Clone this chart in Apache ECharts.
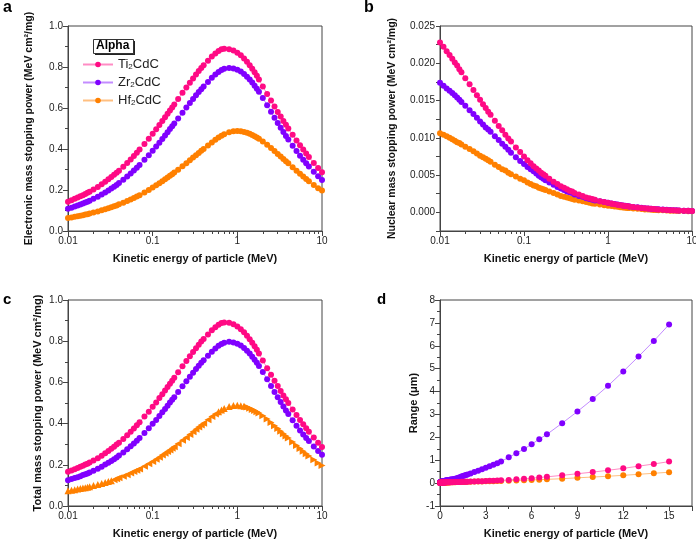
<!DOCTYPE html>
<html>
<head>
<meta charset="utf-8">
<script src="https://cdn.jsdelivr.net/npm/echarts@6/dist/echarts.min.js"></script>
<style>
  html, body { margin: 0; padding: 0; background: #fff; }
  #chart { width: 696px; height: 542px; }
</style>
</head>
<body>
<div id="chart"></div>
<script>
// SRIM energy table (MeV)
var energy = [0.010, 0.011, 0.012, 0.013, 0.014, 0.015, 0.016, 0.017, 0.018, 0.020,
  0.0225, 0.025, 0.0275, 0.030, 0.0325, 0.035, 0.0375, 0.040, 0.045, 0.050,
  0.055, 0.060, 0.065, 0.070, 0.080, 0.090, 0.100, 0.110, 0.120, 0.130,
  0.140, 0.150, 0.160, 0.170, 0.180, 0.200, 0.225, 0.250, 0.275, 0.300,
  0.325, 0.350, 0.375, 0.400, 0.450, 0.500, 0.550, 0.600, 0.650, 0.700,
  0.800, 0.900, 1.00, 1.10, 1.20, 1.30, 1.40, 1.50, 1.60, 1.70,
  1.80, 2.00, 2.25, 2.50, 2.75, 3.00, 3.25, 3.50, 3.75, 4.00,
  4.50, 5.00, 5.50, 6.00, 6.50, 7.00, 8.00, 9.00, 10.0];
var energyRange = energy.concat([11, 12, 13, 14, 15]);

// a: electronic stopping (MeV cm2/mg)
var elecTi = [0.143, 0.150, 0.157, 0.163, 0.169, 0.175, 0.181, 0.186, 0.192, 0.203,
  0.215, 0.228, 0.240, 0.252, 0.263, 0.274, 0.284, 0.294, 0.313, 0.332,
  0.349, 0.366, 0.382, 0.397, 0.425, 0.450, 0.474, 0.496, 0.517, 0.536,
  0.555, 0.572, 0.588, 0.603, 0.617, 0.644, 0.674, 0.700, 0.723, 0.744,
  0.763, 0.780, 0.795, 0.808, 0.831, 0.851, 0.866, 0.878, 0.886, 0.889,
  0.887, 0.881, 0.870, 0.857, 0.842, 0.826, 0.809, 0.792, 0.775, 0.757,
  0.739, 0.705, 0.668, 0.636, 0.607, 0.581, 0.558, 0.537, 0.518, 0.500,
  0.469, 0.442, 0.418, 0.397, 0.378, 0.361, 0.332, 0.307, 0.286];
var elecZr = [0.108, 0.114, 0.119, 0.124, 0.129, 0.134, 0.139, 0.143, 0.148, 0.157,
  0.167, 0.178, 0.188, 0.198, 0.207, 0.216, 0.225, 0.234, 0.250, 0.266,
  0.281, 0.295, 0.309, 0.322, 0.347, 0.370, 0.392, 0.412, 0.431, 0.449,
  0.466, 0.482, 0.497, 0.511, 0.524, 0.549, 0.577, 0.602, 0.624, 0.644,
  0.662, 0.678, 0.692, 0.705, 0.727, 0.747, 0.763, 0.776, 0.785, 0.791,
  0.795, 0.793, 0.787, 0.778, 0.766, 0.753, 0.739, 0.724, 0.709, 0.694,
  0.679, 0.649, 0.614, 0.582, 0.553, 0.527, 0.504, 0.483, 0.464, 0.446,
  0.416, 0.390, 0.367, 0.347, 0.330, 0.315, 0.289, 0.267, 0.249];
var elecHf = [0.063, 0.066, 0.069, 0.072, 0.075, 0.077, 0.080, 0.082, 0.085, 0.090,
  0.095, 0.101, 0.106, 0.111, 0.116, 0.121, 0.125, 0.130, 0.138, 0.146,
  0.154, 0.161, 0.168, 0.175, 0.188, 0.200, 0.212, 0.223, 0.233, 0.243,
  0.252, 0.261, 0.269, 0.277, 0.285, 0.299, 0.316, 0.331, 0.345, 0.358,
  0.370, 0.381, 0.391, 0.400, 0.417, 0.432, 0.445, 0.456, 0.465, 0.472,
  0.482, 0.487, 0.488, 0.486, 0.483, 0.479, 0.474, 0.468, 0.462, 0.456,
  0.450, 0.437, 0.421, 0.405, 0.390, 0.376, 0.363, 0.351, 0.340, 0.330,
  0.311, 0.294, 0.279, 0.266, 0.254, 0.243, 0.225, 0.209, 0.197];

// b: nuclear stopping (MeV cm2/mg)
var nuclTi = [0.0228, 0.0222, 0.0216, 0.0211, 0.0206, 0.0201, 0.0197, 0.0192, 0.0188, 0.0180,
  0.0172, 0.0164, 0.0157, 0.0151, 0.0145, 0.0140, 0.0135, 0.0131, 0.0123, 0.0116,
  0.0110, 0.0104, 0.0099, 0.0095, 0.0087, 0.0081, 0.0075, 0.0070, 0.0066, 0.0062,
  0.0059, 0.0056, 0.0053, 0.0051, 0.0049, 0.0045, 0.0041, 0.0038, 0.0035, 0.0033,
  0.0031, 0.0029, 0.0028, 0.0026, 0.0024, 0.0022, 0.0020, 0.0019, 0.0018, 0.0017,
  0.0015, 0.0014, 0.00128, 0.00118, 0.00110, 0.00103, 0.00097, 0.00091, 0.00087, 0.00082,
  0.00079, 0.00072, 0.00065, 0.00059, 0.00055, 0.00051, 0.00047, 0.00044, 0.00042, 0.00040,
  0.00036, 0.00033, 0.00030, 0.00028, 0.00026, 0.00024, 0.00022, 0.00020, 0.00018];
var nuclZr = [0.0174, 0.0170, 0.0166, 0.0163, 0.0160, 0.0157, 0.0154, 0.0151, 0.0148, 0.0143,
  0.0137, 0.0132, 0.0127, 0.0122, 0.0118, 0.0114, 0.0111, 0.0108, 0.0102, 0.0097,
  0.0092, 0.0088, 0.0084, 0.0080, 0.0074, 0.0069, 0.0065, 0.0061, 0.0058, 0.0055,
  0.0052, 0.0049, 0.0047, 0.0045, 0.0043, 0.0040, 0.0037, 0.0034, 0.0032, 0.0030,
  0.0028, 0.0027, 0.0026, 0.0024, 0.0022, 0.0021, 0.0019, 0.0018, 0.0017, 0.0016,
  0.0015, 0.0014, 0.00128, 0.00119, 0.00111, 0.00104, 0.00098, 0.00093, 0.00088, 0.00084,
  0.00080, 0.00073, 0.00067, 0.00061, 0.00056, 0.00052, 0.00049, 0.00046, 0.00043, 0.00041,
  0.00037, 0.00034, 0.00031, 0.00029, 0.00027, 0.00025, 0.00023, 0.00021, 0.00019];
var nuclHf = [0.0106, 0.0104, 0.0102, 0.0100, 0.0098, 0.0096, 0.0094, 0.0093, 0.0091, 0.0088,
  0.0085, 0.0082, 0.0079, 0.0076, 0.0074, 0.0072, 0.0070, 0.0068, 0.0064, 0.0061,
  0.0058, 0.0056, 0.0053, 0.0051, 0.0048, 0.0045, 0.0043, 0.0040, 0.0038, 0.0036,
  0.0035, 0.0033, 0.0032, 0.0031, 0.0030, 0.0028, 0.0026, 0.0024, 0.0022, 0.0021,
  0.0020, 0.0019, 0.0018, 0.0017, 0.0016, 0.0015, 0.0014, 0.0013, 0.0012, 0.00115,
  0.00105, 0.00097, 0.00090, 0.00084, 0.00078, 0.00074, 0.00070, 0.00066, 0.00063, 0.00060,
  0.00057, 0.00052, 0.00048, 0.00044, 0.00040, 0.00038, 0.00035, 0.00033, 0.00031, 0.00030,
  0.00027, 0.00025, 0.00023, 0.00021, 0.00020, 0.00019, 0.00017, 0.00015, 0.00014];

// c: total stopping (MeV cm2/mg)
var totalTi = [0.166, 0.172, 0.179, 0.184, 0.190, 0.195, 0.201, 0.205, 0.211, 0.221,
  0.232, 0.244, 0.256, 0.267, 0.278, 0.288, 0.298, 0.307, 0.325, 0.344,
  0.360, 0.376, 0.392, 0.407, 0.434, 0.458, 0.482, 0.503, 0.524, 0.542,
  0.561, 0.578, 0.593, 0.608, 0.622, 0.649, 0.678, 0.704, 0.727, 0.747,
  0.766, 0.783, 0.798, 0.811, 0.833, 0.853, 0.868, 0.880, 0.888, 0.891,
  0.889, 0.882, 0.871, 0.858, 0.843, 0.827, 0.810, 0.793, 0.776, 0.758,
  0.740, 0.706, 0.669, 0.637, 0.608, 0.582, 0.558, 0.537, 0.518, 0.500,
  0.469, 0.442, 0.418, 0.397, 0.378, 0.361, 0.332, 0.307, 0.286];
var totalZr = [0.125, 0.131, 0.136, 0.140, 0.145, 0.150, 0.154, 0.158, 0.163, 0.171,
  0.181, 0.191, 0.201, 0.210, 0.219, 0.227, 0.236, 0.245, 0.260, 0.276,
  0.290, 0.304, 0.317, 0.330, 0.354, 0.377, 0.399, 0.418, 0.437, 0.455,
  0.471, 0.487, 0.502, 0.516, 0.528, 0.553, 0.581, 0.605, 0.627, 0.647,
  0.665, 0.681, 0.695, 0.707, 0.729, 0.749, 0.765, 0.778, 0.787, 0.793,
  0.797, 0.794, 0.788, 0.779, 0.767, 0.754, 0.740, 0.725, 0.710, 0.695,
  0.680, 0.650, 0.615, 0.583, 0.554, 0.528, 0.505, 0.483, 0.464, 0.446,
  0.416, 0.390, 0.367, 0.347, 0.330, 0.315, 0.289, 0.267, 0.249];
var totalHf = [0.074, 0.076, 0.079, 0.082, 0.085, 0.087, 0.089, 0.091, 0.094, 0.099,
  0.104, 0.109, 0.114, 0.119, 0.123, 0.128, 0.132, 0.137, 0.144, 0.152,
  0.160, 0.167, 0.173, 0.180, 0.193, 0.205, 0.216, 0.227, 0.237, 0.247,
  0.256, 0.264, 0.272, 0.280, 0.288, 0.302, 0.319, 0.333, 0.347, 0.360,
  0.372, 0.383, 0.393, 0.402, 0.419, 0.434, 0.446, 0.457, 0.466, 0.473,
  0.483, 0.488, 0.489, 0.487, 0.484, 0.480, 0.475, 0.469, 0.463, 0.457,
  0.451, 0.438, 0.422, 0.405, 0.390, 0.376, 0.363, 0.351, 0.340, 0.330,
  0.311, 0.294, 0.279, 0.266, 0.254, 0.243, 0.225, 0.209, 0.197];

// d: projected range (um)
var rangeTi = [0.010, 0.010, 0.011, 0.011, 0.011, 0.012, 0.012, 0.012, 0.013, 0.013,
  0.013, 0.014, 0.014, 0.015, 0.015, 0.015, 0.016, 0.016, 0.017, 0.017,
  0.018, 0.018, 0.019, 0.019, 0.020, 0.021, 0.022, 0.022, 0.023, 0.024,
  0.024, 0.025, 0.025, 0.026, 0.026, 0.027, 0.028, 0.029, 0.030, 0.031,
  0.032, 0.033, 0.033, 0.034, 0.035, 0.037, 0.038, 0.039, 0.040, 0.041,
  0.043, 0.045, 0.047, 0.049, 0.051, 0.053, 0.055, 0.056, 0.058, 0.060,
  0.062, 0.066, 0.072, 0.078, 0.085, 0.091, 0.098, 0.105, 0.112, 0.120,
  0.140, 0.165, 0.190, 0.215, 0.245, 0.275, 0.340, 0.410, 0.480,
  0.560, 0.645, 0.740, 0.835, 0.940];
var rangeZr = [0.020, 0.021, 0.022, 0.023, 0.024, 0.025, 0.025, 0.026, 0.027, 0.028,
  0.030, 0.031, 0.033, 0.034, 0.035, 0.036, 0.037, 0.038, 0.040, 0.042,
  0.044, 0.046, 0.048, 0.049, 0.052, 0.055, 0.058, 0.061, 0.063, 0.066,
  0.068, 0.070, 0.072, 0.074, 0.076, 0.080, 0.084, 0.089, 0.093, 0.097,
  0.101, 0.105, 0.109, 0.113, 0.120, 0.127, 0.134, 0.141, 0.148, 0.155,
  0.170, 0.180, 0.194, 0.216, 0.239, 0.261, 0.284, 0.306, 0.329, 0.352,
  0.375, 0.420, 0.480, 0.540, 0.605, 0.670, 0.735, 0.800, 0.870, 0.940,
  1.13, 1.30, 1.49, 1.70, 1.92, 2.13, 2.62, 3.13, 3.67,
  4.25, 4.88, 5.53, 6.21, 6.93];
var rangeHf = [0.005, 0.005, 0.005, 0.006, 0.006, 0.006, 0.006, 0.007, 0.007, 0.007,
  0.008, 0.008, 0.009, 0.009, 0.009, 0.010, 0.010, 0.010, 0.011, 0.011,
  0.012, 0.012, 0.013, 0.013, 0.014, 0.015, 0.015, 0.016, 0.017, 0.017,
  0.018, 0.018, 0.019, 0.019, 0.020, 0.021, 0.022, 0.023, 0.024, 0.025,
  0.026, 0.027, 0.027, 0.028, 0.030, 0.031, 0.032, 0.034, 0.035, 0.036,
  0.038, 0.040, 0.042, 0.044, 0.046, 0.048, 0.050, 0.052, 0.054, 0.056,
  0.058, 0.061, 0.065, 0.069, 0.073, 0.077, 0.081, 0.086, 0.090, 0.095,
  0.105, 0.116, 0.128, 0.140, 0.152, 0.165, 0.192, 0.232, 0.265,
  0.300, 0.340, 0.385, 0.430, 0.475];

var nuclLabels = [0, 0.005, 0.010, 0.015, 0.020, 0.025];
var rangeLabels = [0, 3, 6, 9, 12, 15];

var names = ['Ti2CdC', 'Zr2CdC', 'Hf2CdC'];
var colors = ['#ff0a84', '#8000ff', '#ff8000'];
var lineColors = ['#ff8cc4', '#c38cff', '#ffbf80'];

var axisColor = '#444';
var labelColor = '#222';
var fontFam = '"Liberation Sans", Arial, sans-serif';

function pairs(xs, ys) {
  return ys.map(function (y, i) { return [xs[i], y]; });
}

// Origin-style arrow triangles: left on the rise, up at the top, right on the fall
function triRotate(v) {
  var e = v[0];
  if (e < 0.035) return 0;
  if (e < 0.6) return 90;
  if (e <= 1.2) return 0;
  return -90;
}

function lineSeries(k, idx, xs, ys, symbol) {
  var tri = symbol === 'triangle';
  return {
    name: names[k],
    type: 'line',
    xAxisIndex: idx,
    yAxisIndex: idx,
    data: pairs(xs, ys),
    symbol: symbol || 'circle',
    symbolSize: tri ? 7 : 6,
    symbolRotate: tri ? triRotate : 0,
    showSymbol: true,
    z: 3 - k,
    itemStyle: { color: colors[k] },
    lineStyle: { color: lineColors[k], width: 1 },
    emphasis: { disabled: true }
  };
}

function logAxis(grid, name) {
  return {
    type: 'log', logBase: 10, gridIndex: grid, min: 0.01, max: 10, position: 'bottom',
    name: name, nameLocation: 'middle', nameGap: 22,
    nameTextStyle: { fontSize: 11, fontWeight: 'bold', color: '#111', fontFamily: fontFam },
    axisLine: { onZero: false, lineStyle: { color: axisColor } },
    axisTick: { length: 5, lineStyle: { color: axisColor } },
    minorTick: { show: true, splitNumber: 9, length: 3, lineStyle: { color: axisColor } },
    axisLabel: { fontSize: 10, color: labelColor, margin: 5, fontFamily: fontFam,
      formatter: function (v) { return String(+(+v).toPrecision(3)); } },
    splitLine: { show: false }
  };
}

function valueAxisY(grid, name, gap, size, extra) {
  var ax = {
    type: 'value', gridIndex: grid, position: 'left',
    name: name, nameLocation: 'middle', nameGap: gap, nameRotate: 90,
    nameTextStyle: { fontSize: size, fontWeight: 'bold', color: '#111', fontFamily: fontFam },
    axisLine: { show: true, onZero: false, lineStyle: { color: axisColor } },
    axisTick: { show: true, length: 5, lineStyle: { color: axisColor } },
    minorTick: { show: true, splitNumber: 2, length: 3, lineStyle: { color: axisColor } },
    axisLabel: { fontSize: 10, color: labelColor, margin: 5, fontFamily: fontFam },
    splitLine: { show: false }
  };
  for (var key in extra) ax[key] = extra[key];
  return ax;
}

function gridBox(left, top, width, height) {
  return { left: left, top: top, width: width, height: height, show: true,
    borderColor: axisColor, borderWidth: 1, backgroundColor: 'transparent', outerBoundsMode: 'none' };
}

var frac1 = function (v) { return v.toFixed(1); };

var chart = echarts.init(document.getElementById('chart'), null, { renderer: 'canvas' });

var option = {
  animation: false,
  backgroundColor: '#fff',
  textStyle: { fontFamily: fontFam },
  grid: [
    gridBox(68, 26, 254, 205),
    gridBox(440, 26, 252, 205),
    gridBox(68, 300, 254, 206),
    gridBox(440, 300, 252, 206)
  ],
  xAxis: [
    logAxis(0, 'Kinetic energy of particle (MeV)'),
    logAxis(1, 'Kinetic energy of particle (MeV)'),
    logAxis(2, 'Kinetic energy of particle (MeV)'),
    {
      type: 'value', gridIndex: 3, min: 0, max: 16.5, interval: 3, position: 'bottom',
      name: 'Kinetic energy of particle (MeV)', nameLocation: 'middle', nameGap: 22,
      nameTextStyle: { fontSize: 11, fontWeight: 'bold', color: '#111', fontFamily: fontFam },
      axisLine: { onZero: false, lineStyle: { color: axisColor } },
      axisTick: { length: 5, lineStyle: { color: axisColor } },
      minorTick: { show: true, splitNumber: 2, length: 3, lineStyle: { color: axisColor } },
      axisLabel: { fontSize: 10, color: labelColor, margin: 5, customValues: rangeLabels },
      splitLine: { show: false }
    }
  ],
  yAxis: [
    valueAxisY(0, 'Electronic mass stopping power (MeV cm²/mg)', 33, 10.5,
      { min: 0, max: 1, interval: 0.2, axisLabel: { fontSize: 10, color: labelColor, margin: 5, formatter: frac1 } }),
    valueAxisY(1, 'Nuclear mass stopping power (MeV cm²/mg)', 42, 10.5, {
      min: -0.0025, max: 0.025, interval: 0.0025,
      minorTick: { show: false },
      axisTick: { show: true, length: 4, lineStyle: { color: axisColor } },
      axisLabel: { fontSize: 10, color: labelColor, margin: 5, customValues: nuclLabels,
        formatter: function (v) { return v.toFixed(3); } }
    }),
    valueAxisY(2, 'Total mass stopping power (MeV cm²/mg)', 25, 11,
      { min: 0, max: 1, interval: 0.2, axisLabel: { fontSize: 10, color: labelColor, margin: 5, formatter: frac1 } }),
    valueAxisY(3, 'Range (\u03bcm)', 21, 11, { min: -1, max: 8, interval: 1 })
  ],
  legend: {
    data: names,
    orient: 'vertical',
    left: 77, top: 53,
    itemWidth: 30, itemHeight: 7, itemGap: 5,
    selectedMode: false,
    formatter: function (n) { return n.replace('2', '{s|2}'); },
    textStyle: {
      fontSize: 13, color: '#222', fontFamily: fontFam,
      rich: { s: { fontSize: 8, verticalAlign: 'bottom', lineHeight: 9, color: '#222' } }
    }
  },
  graphic: [
    { type: 'text', left: 3, top: 0, style: { text: 'a', font: 'bold 16px ' + fontFam, fill: '#000' } },
    { type: 'text', left: 364, top: 0, style: { text: 'b', font: 'bold 16px ' + fontFam, fill: '#000' } },
    { type: 'text', left: 3, top: 292, style: { text: 'c', font: 'bold 15px ' + fontFam, fill: '#000' } },
    { type: 'text', left: 377, top: 292, style: { text: 'd', font: 'bold 15px ' + fontFam, fill: '#000' } },
    { type: 'rect', left: 95, top: 41, shape: { width: 40, height: 14 }, style: { fill: '#222' }, z: 10 },
    { type: 'rect', left: 93, top: 39, shape: { width: 40, height: 14 }, style: { fill: '#fff', stroke: '#333', lineWidth: 1 }, z: 11 },
    { type: 'text', left: 96, top: 40, style: { text: 'Alpha', font: 'bold 12px ' + fontFam, fill: '#000' }, z: 12 }
  ],
  series: [
    lineSeries(0, 0, energy, elecTi),
    lineSeries(1, 0, energy, elecZr),
    lineSeries(2, 0, energy, elecHf),
    lineSeries(0, 1, energy, nuclTi),
    lineSeries(1, 1, energy, nuclZr),
    lineSeries(2, 1, energy, nuclHf),
    lineSeries(0, 2, energy, totalTi),
    lineSeries(1, 2, energy, totalZr),
    lineSeries(2, 2, energy, totalHf, 'triangle'),
    lineSeries(0, 3, energyRange, rangeTi),
    lineSeries(1, 3, energyRange, rangeZr),
    lineSeries(2, 3, energyRange, rangeHf)
  ]
};

chart.setOption(option);
</script>
</body>
</html>
